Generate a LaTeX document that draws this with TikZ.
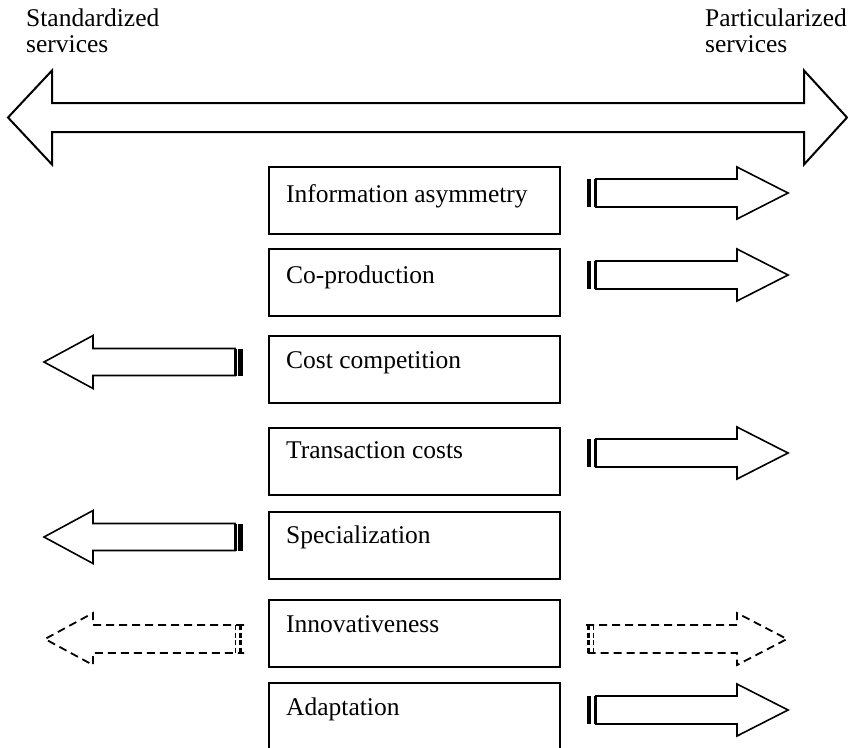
\documentclass[tikz,border=0pt]{standalone}
\usepackage{fontspec}
\setmainfont{Liberation Serif}
\begin{document}
\begin{tikzpicture}[x=1pt,y=-1pt,
  lbl/.style={anchor=base west,inner sep=0pt,font=\fontsize{25.5}{26}\selectfont},
  factor/.style={draw,line width=2pt,anchor=north west,minimum width=291pt,minimum height=67pt,inner sep=0pt},
  outline/.style={draw,line width=1.6pt,line join=miter,fill=white},
  dashline/.style={draw,line width=1.8pt,dash pattern=on 8pt off 5pt},
  dashbar/.style={line width=3pt,dash pattern=on 5pt off 2.5pt}]
\useasboundingbox (0,0) rectangle (848,747);

% axis headings
\node[lbl] (std1) at (26,26) {Standardized};
\node[lbl] (std2) at (26,52) {services};
\node[lbl] (par1) at (705,26) {Particularized};
\node[lbl] (par2) at (705,52) {services};

% double-headed axis arrow
\draw[outline,line width=2pt] (8,117.5) -- (52,70.5) -- (52,103) -- (804,103) -- (804,70.5)
  -- (847,117.5) -- (804,164.5) -- (804,132) -- (52,132) -- (52,164.5) -- cycle;

% factor boxes
\foreach \nm/\top in {f1/166,f2/248,f3/335,f4/427,f5/511,f6/599,f7/682}
  \node[factor] (\nm) at (268,\top) {};

\node[lbl] (t1) at (286,202) {Information asymmetry};
\node[lbl] (t2) at (286,283) {Co-production};
\node[lbl] (t3) at (286,368) {Cost competition};
\node[lbl] (t4) at (286,458) {Transaction costs};
\node[lbl] (t5) at (286,543) {Specialization};
\node[lbl] (t6) at (286,632) {Innovativeness};
\node[lbl] (t7) at (286,715) {Adaptation};

% striped arrows pointing right / left, centred on a given height
\newcommand\stripedRight[1]{%
  \begin{scope}[shift={(0,#1)}]
    \draw[outline] (596,-14) -- (737,-14) -- (737,-26) -- (788,0) -- (737,26) -- (737,14) -- (596,14) -- cycle;
    \fill (587,-14) rectangle (591,14);
    \fill (593.5,-14) rectangle (596,14);
  \end{scope}}
\newcommand\stripedLeft[1]{%
  \begin{scope}[shift={(0,#1)}]
    \draw[outline] (235,-13.5) -- (93,-13.5) -- (93,-26.5) -- (44,0) -- (93,26.5) -- (93,13.5) -- (235,13.5) -- cycle;
    \fill (234,-13.5) rectangle (236.5,13.5);
    \fill (238,-13.5) rectangle (243,13.5);
  \end{scope}}

\stripedRight{193}
\stripedRight{275}
\stripedLeft{362}
\stripedRight{453}
\stripedLeft{537}
\stripedRight{710}

% uncertain direction: dashed arrows both ways
\begin{scope}[shift={(0,639)}]
  \draw[dashline] (244,-14) -- (93,-14) -- (93,-26) -- (45,0) -- (93,26) -- (93,14) -- (244,14);
  \draw[dashbar] (240.5,-14) -- (240.5,14);
  \draw[dashbar,line width=1.6pt] (235.5,-14) -- (235.5,14);
  \draw[dashline] (586,-14) -- (737,-14) -- (737,-26) -- (787,0) -- (737,26) -- (737,14) -- (586,14);
  \draw[dashbar] (588.5,-14) -- (588.5,14);
  \draw[dashbar,line width=1.6pt] (593.5,-14) -- (593.5,14);
\end{scope}
\end{tikzpicture}
\end{document}
